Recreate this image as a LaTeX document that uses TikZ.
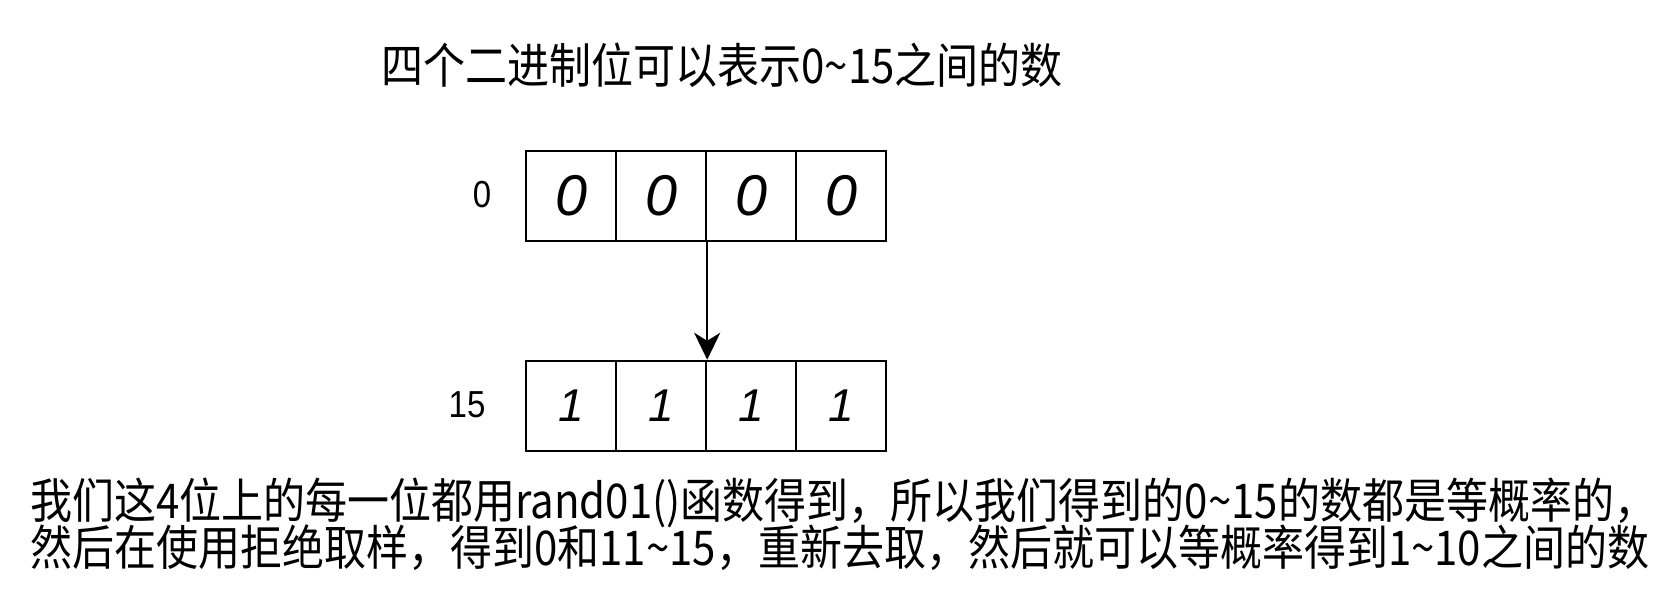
\documentclass[tikz,border=0pt]{standalone}
\usepackage{fontspec}
\setmainfont{Liberation Sans}
\newfontfamily\cjk{Noto Sans CJK SC}
\usetikzlibrary{arrows.meta}
\newcommand{\tallx}[1]{\scalebox{1}[1.14]{#1}}
\newcommand{\widex}[1]{\scalebox{1.25}[1.25]{#1}}
\begin{document}
\begin{tikzpicture}[x=1pt,y=-1pt,
  cell/.style={draw,line width=2.4pt,minimum width=90pt,minimum height=90pt,inner sep=0pt,font=\fontsize{46}{46}\selectfont\itshape},
  cjktext/.style={inner sep=0pt,font=\cjk\fontsize{42}{48}\selectfont},
  lbl/.style={inner sep=0pt,font=\fontsize{33}{33}\selectfont},
  conn/.style={line width=2.4pt,-{Stealth[length=27pt,width=26pt,inset=8pt]}}]
\useasboundingbox[fill=white] (0,0) rectangle (1680,594);
\node[cjktext,anchor=base] (title) at (722,84) {\tallx{四个二进制位可以表示0\textasciitilde 15之间的数}};
\node[lbl] (l0) at (482,195) {\tallx{0}};
\node[lbl] (l15) at (467,405) {\tallx{15}};
\foreach \i/\x in {1/571,2/661,3/751,4/841}{
  \node[cell] (t\i) at (\x,196) {\widex{0}};
  \node[cell] (b\i) at (\x,406) {1};
}
\draw[conn] (t2.south east) -- (b2.north east);
\node[cjktext,anchor=base west] (desc1) at (30,518) {\tallx{我们这4位上的每一位都用rand01()函数得到，所以我们得到的0\textasciitilde 15的数都是等概率的，}};
\node[cjktext,anchor=base west] (desc2) at (30,565) {\tallx{然后在使用拒绝取样，得到0和11\textasciitilde 15，重新去取，然后就可以等概率得到1\textasciitilde 10之间的数}};
\end{tikzpicture}
\end{document}
